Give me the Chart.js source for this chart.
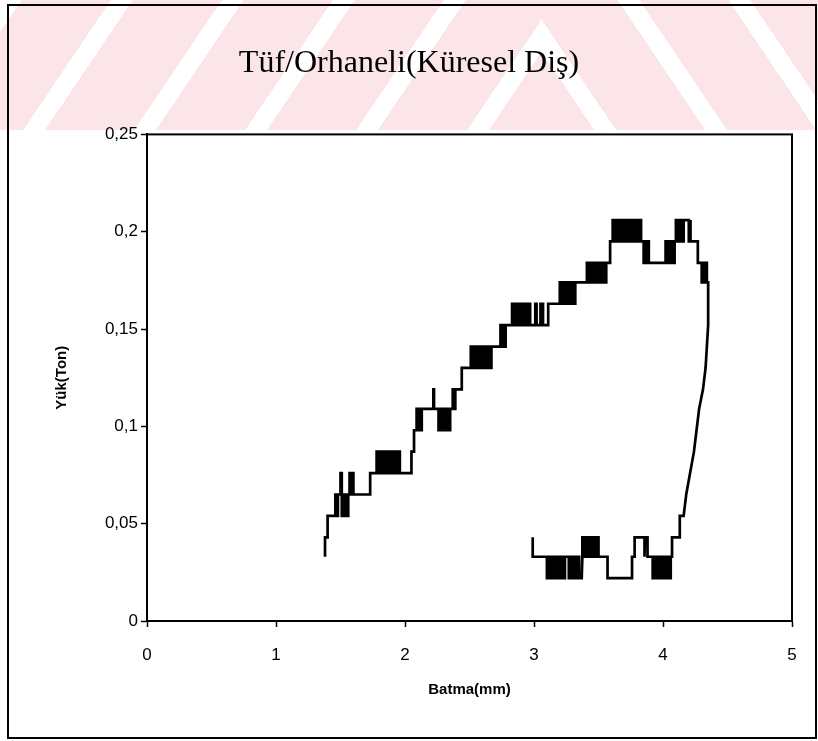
<!DOCTYPE html>
<html lang="tr">
<head>
<meta charset="utf-8">
<title>Tüf/Orhaneli(Küresel Diş)</title>
<script src="https://cdn.jsdelivr.net/npm/chart.js@4.4.1/dist/chart.umd.min.js"></script>
<style>
  html, body { margin: 0; padding: 0; background: #fff; }
  #sayfa { position: relative; width: 818px; height: 741px; overflow: hidden; }
  .filigran { position: absolute; top: 0; height: 130px; }
  #filigranSol { left: 0; width: 540px; background: repeating-linear-gradient(124deg, #fff 0 18px, #fce5e8 18px 92px); }
  #filigranSag { left: 540px; width: 278px; background: repeating-linear-gradient(56deg, #fce5e8 0 45px, #fff 45px 63px, #fce5e8 63px 92px); }
  #cerceve { position: absolute; left: 7px; top: 4px; width: 806px; height: 731px; border: 2px solid #000; }
  canvas { position: absolute; left: 0; top: 0; }
</style>
</head>
<body>
<div id="sayfa">
  <div class="filigran" id="filigranSol"></div>
  <div class="filigran" id="filigranSag"></div>
  <div id="cerceve"></div>
  <canvas id="grafik" width="818" height="741"></canvas>
</div>
<script>
// Tüf/Orhaneli, küresel diş: batma (mm) - yük (ton)
var baslik = 'Tüf/Orhaneli(Küresel Diş)';
var xBasligi = 'Batma(mm)';
var yBasligi = 'Yük(Ton)';
var xEtiketleri = ['0', '1', '2', '3', '4', '5'];
var yEtiketleri = ['0', '0,05', '0,1', '0,15', '0,2', '0,25'];

// yükleme kolu [batma, yük]
var yukleme = [
  [1.38,0.033],[1.38,0.043],[1.40,0.043],[1.40,0.054],[1.46,0.054],[1.46,0.065],[1.47,0.065],[1.47,0.054],
  [1.48,0.054],[1.48,0.065],[1.50,0.065],[1.50,0.076],[1.51,0.076],[1.51,0.054],[1.52,0.054],[1.52,0.065],
  [1.53,0.065],[1.53,0.054],[1.54,0.054],[1.54,0.065],[1.55,0.065],[1.55,0.054],[1.56,0.054],[1.56,0.065],
  [1.57,0.065],[1.57,0.076],[1.58,0.076],[1.58,0.065],[1.585,0.065],[1.585,0.076],[1.60,0.076],[1.60,0.065],
  [1.73,0.065],[1.73,0.076],[1.78,0.076],
  [1.78,0.087],[1.80,0.087],[1.80,0.076],[1.82,0.076],[1.82,0.087],[1.84,0.087],[1.84,0.076],[1.86,0.076],
  [1.86,0.087],[1.88,0.087],[1.88,0.076],[1.90,0.076],[1.90,0.087],[1.92,0.087],[1.92,0.076],[1.94,0.076],
  [1.94,0.087],[1.96,0.087],[1.96,0.076],
  [2.05,0.076],[2.05,0.087],[2.07,0.087],[2.07,0.098],[2.09,0.098],[2.09,0.109],
  [2.10,0.109],[2.10,0.098],[2.11,0.098],[2.11,0.109],[2.12,0.109],[2.12,0.098],[2.13,0.098],[2.13,0.109],
  [2.22,0.109],[2.22,0.119],[2.225,0.119],[2.225,0.109],[2.26,0.109],
  [2.26,0.098],[2.28,0.098],[2.28,0.109],[2.30,0.109],[2.30,0.098],[2.32,0.098],[2.32,0.109],[2.34,0.109],
  [2.34,0.098],[2.35,0.098],[2.35,0.109],
  [2.37,0.109],[2.37,0.119],[2.38,0.119],[2.38,0.109],[2.39,0.109],[2.39,0.119],
  [2.44,0.119],[2.44,0.130],[2.51,0.130],[2.51,0.141],
  [2.53,0.141],[2.53,0.130],[2.55,0.130],[2.55,0.141],[2.57,0.141],[2.57,0.130],[2.59,0.130],[2.59,0.141],
  [2.61,0.141],[2.61,0.130],[2.63,0.130],[2.63,0.141],[2.65,0.141],[2.65,0.130],[2.67,0.130],[2.67,0.141],
  [2.74,0.141],[2.74,0.152],[2.76,0.152],[2.76,0.141],[2.78,0.141],[2.78,0.152],[2.80,0.152],
  [2.83,0.152],[2.83,0.163],[2.85,0.163],[2.85,0.152],[2.87,0.152],[2.87,0.163],[2.89,0.163],[2.89,0.152],
  [2.91,0.152],[2.91,0.163],[2.93,0.163],[2.93,0.152],[2.95,0.152],[2.95,0.163],[2.97,0.163],[2.97,0.152],
  [3.01,0.152],[3.01,0.163],[3.02,0.163],[3.02,0.152],[3.05,0.152],[3.05,0.163],[3.07,0.163],[3.07,0.152],
  [3.11,0.152],[3.11,0.163],[3.20,0.163],
  [3.20,0.174],[3.22,0.174],[3.22,0.163],[3.24,0.163],[3.24,0.174],[3.26,0.174],[3.26,0.163],[3.28,0.163],
  [3.28,0.174],[3.30,0.174],[3.30,0.163],[3.32,0.163],[3.32,0.174],[3.41,0.174],
  [3.41,0.184],[3.43,0.184],[3.43,0.174],[3.45,0.174],[3.45,0.184],[3.47,0.184],[3.47,0.174],[3.49,0.174],
  [3.49,0.184],[3.51,0.184],[3.51,0.174],[3.53,0.174],[3.53,0.184],[3.55,0.184],[3.55,0.174],[3.56,0.174],
  [3.56,0.184],[3.59,0.184],[3.59,0.195],[3.61,0.195],[3.61,0.206],
  [3.63,0.206],[3.63,0.195],[3.65,0.195],[3.65,0.206],[3.67,0.206],[3.67,0.195],[3.69,0.195],[3.69,0.206],
  [3.71,0.206],[3.71,0.195],[3.73,0.195],[3.73,0.206],[3.75,0.206],[3.75,0.195],[3.77,0.195],[3.77,0.206],
  [3.79,0.206],[3.79,0.195],[3.81,0.195],[3.81,0.206],[3.83,0.206],[3.83,0.195],[3.84,0.195],
  [3.85,0.195],[3.85,0.184],[3.86,0.184],[3.86,0.195],[3.87,0.195],[3.87,0.184],[3.88,0.184],[3.88,0.195],
  [3.89,0.195],[3.89,0.184],[4.02,0.184],
  [4.02,0.195],[4.04,0.195],[4.04,0.184],[4.06,0.184],[4.06,0.195],[4.08,0.195],[4.08,0.184],[4.09,0.184],
  [4.09,0.195],[4.10,0.195],[4.10,0.206],
  [4.12,0.206],[4.12,0.195],[4.13,0.195],[4.13,0.206],[4.15,0.206],[4.15,0.195],[4.16,0.195],[4.16,0.206],
  [4.20,0.206],[4.20,0.195],[4.21,0.195],[4.21,0.206],[4.215,0.206],[4.215,0.195],
  [4.27,0.195],[4.27,0.184],[4.30,0.184],[4.30,0.174],[4.31,0.174],[4.31,0.184],[4.32,0.184],[4.32,0.174],
  [4.33,0.174],[4.33,0.184],[4.34,0.184],[4.34,0.174],[4.35,0.174]
];

// boşaltma kolu [batma, yük]
var bosaltma = [
  [4.35,0.163],[4.35,0.152],[4.34,0.141],[4.33,0.130],[4.31,0.119],[4.28,0.109],[4.26,0.098],[4.24,0.087],
  [4.21,0.076],[4.18,0.065],[4.16,0.054],[4.13,0.054],[4.13,0.043],[4.07,0.043],[4.07,0.033],[4.06,0.033],
  [4.06,0.022],
  [4.04,0.022],[4.04,0.033],[4.02,0.033],[4.02,0.022],[4.00,0.022],[4.00,0.033],[3.98,0.033],[3.98,0.022],
  [3.96,0.022],[3.96,0.033],[3.94,0.033],[3.94,0.022],[3.92,0.022],[3.92,0.033],
  [3.88,0.033],[3.88,0.043],[3.86,0.043],[3.86,0.033],[3.855,0.033],[3.855,0.043],[3.78,0.043],[3.78,0.033],
  [3.76,0.033],[3.76,0.022],[3.57,0.022],[3.57,0.033],[3.50,0.033],
  [3.50,0.043],[3.48,0.043],[3.48,0.033],[3.46,0.033],[3.46,0.043],[3.44,0.043],[3.44,0.033],[3.42,0.033],
  [3.42,0.043],[3.40,0.043],[3.40,0.033],[3.38,0.033],[3.38,0.043],[3.375,0.043],[3.375,0.033],
  [3.37,0.022],[3.35,0.022],[3.35,0.033],[3.33,0.033],[3.33,0.022],[3.31,0.022],[3.31,0.033],[3.29,0.033],
  [3.29,0.022],[3.27,0.022],[3.27,0.033],[3.24,0.033],[3.24,0.022],[3.22,0.022],[3.22,0.033],[3.20,0.033],
  [3.20,0.022],[3.18,0.022],[3.18,0.033],[3.16,0.033],[3.16,0.022],[3.14,0.022],[3.14,0.033],[3.12,0.033],
  [3.12,0.022],[3.10,0.022],[3.10,0.033],[2.99,0.033],[2.99,0.043]
];

var egri = yukleme.concat(bosaltma).map(function (p) { return { x: p[0], y: p[1] }; });

// grafik alanının çevresine kutu
var kutu = {
  id: 'kutu',
  afterDraw: function (chart) {
    var a = chart.chartArea;
    var ctx = chart.ctx;
    ctx.save();
    ctx.strokeStyle = '#000';
    ctx.lineWidth = 2;
    ctx.strokeRect(a.left, a.top, a.right - a.left, a.bottom - a.top);
    ctx.restore();
  }
};

var eksenYazi = { family: 'Liberation Sans', size: 17 };

new Chart(document.getElementById('grafik'), {
  type: 'scatter',
  data: {
    datasets: [{
      data: egri,
      showLine: true,
      borderColor: '#000',
      borderWidth: 2.7,
      pointRadius: 0,
      tension: 0
    }]
  },
  options: {
    responsive: false,
    animation: false,
    layout: { padding: { left: 26, right: 26, top: 8, bottom: 20 } },
    plugins: {
      legend: { display: false },
      tooltip: { enabled: false },
      title: {
        display: true,
        text: baslik,
        color: '#000',
        font: { family: 'Liberation Serif', size: 32, weight: 'normal' },
        padding: { top: 36, bottom: 52 }
      }
    },
    scales: {
      x: {
        type: 'linear',
        min: 0,
        max: 5,
        afterFit: function (s) { s.height = 100; },
        ticks: {
          stepSize: 1,
          color: '#000',
          font: eksenYazi,
          padding: 18,
          maxRotation: 0,
          callback: function (v, i) { return xEtiketleri[i]; }
        },
        grid: { drawOnChartArea: false, tickLength: 6, tickColor: '#000', tickWidth: 1.5 },
        border: { color: '#000', width: 2 },
        title: {
          display: true,
          text: xBasligi,
          color: '#000',
          font: { family: 'Liberation Sans', size: 15, weight: 'bold' },
          padding: { top: 0, bottom: 22 }
        }
      },
      y: {
        type: 'linear',
        min: 0,
        max: 0.25,
        afterFit: function (s) { s.width = 121; },
        ticks: {
          stepSize: 0.05,
          color: '#000',
          font: eksenYazi,
          padding: 3,
          callback: function (v, i) { return yEtiketleri[i]; }
        },
        grid: { drawOnChartArea: false, tickLength: 6, tickColor: '#000', tickWidth: 1.5 },
        border: { color: '#000', width: 2 },
        title: {
          display: true,
          text: yBasligi,
          color: '#000',
          font: { family: 'Liberation Sans', size: 15, weight: 'bold' },
          padding: { top: 27, bottom: 0 }
        }
      }
    }
  },
  plugins: [kutu]
});
</script>
</body>
</html>
